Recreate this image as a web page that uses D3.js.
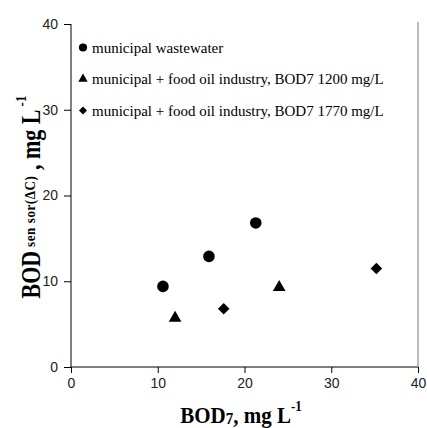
<!DOCTYPE html>
<html lang="en">
<head>
<meta charset="UTF-8">
<title>BOD scatter</title>
<script src="https://d3js.org/d3.v7.min.js"></script>
<style>
  body { margin: 0; background: #fff; }
  .tick text { font-family: "Liberation Sans", Arial, sans-serif; font-size: 14px; fill: #222; }
  .ttl { font-family: "Liberation Serif", "Times New Roman", serif; font-weight: bold; }
  .leg { font-family: "Liberation Serif", "Times New Roman", serif; font-size: 15px; }
</style>
</head>
<body>
<svg id="main" width="427" height="428"></svg>
<script>
  // data
  const seriesNames = ['municipal wastewater',
                       'municipal + food oil industry, BOD7 1200 mg/L',
                       'municipal + food oil industry, BOD7 1770 mg/L'];
  const municipalX = [10.6, 15.9, 21.3];
  const municipalY = [9.4, 12.9, 16.8];
  const oil1200X = [12.0, 24.0];
  const oil1200Y = [5.7, 9.3];
  const oil1770X = [17.6, 35.2];
  const oil1770Y = [6.8, 11.5];
  const xTicks = [0, 10, 20, 30, 40];
  const yTicks = [0, 10, 20, 30, 40];

  let svg = d3.select('svg#main');
  let mLeft = 71, mRight = 418, mTop = 24, mBottom = 367;

  let x = d3.scaleLinear().domain([0, 40]).range([mLeft, mRight]);
  let y = d3.scaleLinear().domain([0, 40]).range([mBottom, mTop]);

  let xAxis = svg.append('g')
      .attr('transform', 'translate(0,' + mBottom + ')')
      .call(d3.axisBottom(x).tickValues(xTicks).tickSize(6).tickPadding(5));
  let yAxis = svg.append('g')
      .attr('transform', 'translate(' + mLeft + ',0)')
      .call(d3.axisLeft(y).tickValues(yTicks).tickSize(7).tickPadding(6));
  svg.selectAll('.domain').attr('stroke', '#000');
  svg.selectAll('.tick line').attr('stroke', '#000');
  xAxis.selectAll('.domain').attr('d', 'M' + mLeft + ',0H' + mRight);
  yAxis.selectAll('.domain').attr('d', 'M0,' + mBottom + 'V' + mTop);

  // right frame line
  svg.append('line')
      .attr('x1', x(40)).attr('x2', x(40))
      .attr('y1', y(40) - 2).attr('y2', y(0))
      .attr('stroke', '#777').attr('stroke-width', 1);

  // circle, triangle, diamond (square turned 45deg)
  const symbols = [d3.symbolCircle, d3.symbolTriangle, d3.symbolSquare];
  const turn = [0, 0, 45];
  const sizes = [105, 70, 66];
  const series = [
    municipalX.map((v, i) => ({x: v, y: municipalY[i]})),
    oil1200X.map((v, i) => ({x: v, y: oil1200Y[i]})),
    oil1770X.map((v, i) => ({x: v, y: oil1770Y[i]}))
  ];

  series.forEach(function (pts, k) {
    svg.append('g').selectAll('path')
        .data(pts)
        .enter()
        .append('path')
        .attr('d', d3.symbol().type(symbols[k]).size(sizes[k]))
        .attr('transform', d => 'translate(' + x(d.x) + ',' + y(d.y) + ') rotate(' + turn[k] + ')')
        .attr('fill', '#000');
  });

  // legend
  let legSizes = [52, 38, 32];
  let legend = svg.selectAll('.legendRow').data(seriesNames)
      .enter().append('g')
      .attr('class', 'legendRow')
      .attr('transform', (d, i) => 'translate(83,' + (47.5 + i * 31.5) + ')');
  legend.append('path')
      .attr('d', (d, i) => d3.symbol().type(symbols[i]).size(legSizes[i])())
      .attr('transform', (d, i) => 'rotate(' + turn[i] + ')')
      .attr('fill', '#000');
  legend.append('text')
      .attr('class', 'leg')
      .attr('x', 9).attr('y', 5)
      .text(d => d);

  // x title (glyphs a bit taller than Liberation Serif)
  let xt = svg.append('text').attr('class', 'ttl')
      .attr('transform', 'translate(241,423) scale(1,1.1)')
      .attr('text-anchor', 'middle')
      .attr('font-size', 21);
  xt.append('tspan').text('BOD');
  xt.append('tspan').attr('font-size', 15).attr('dy', 1).text('7');
  xt.append('tspan').attr('dy', -1).text(', mg L');
  xt.append('tspan').attr('font-size', 13).attr('dy', -11).text('-1');

  // y title
  let yt = svg.append('text').attr('class', 'ttl')
      .attr('transform', 'translate(40,197) rotate(-90) scale(1,1.2)')
      .attr('text-anchor', 'middle')
      .attr('font-size', 22);
  yt.append('tspan').text('BOD');
  yt.append('tspan').attr('font-size', 13).attr('dy', -4)
      .attr('letter-spacing', 0.6).text(' sen sor(\u0394C)');
  yt.append('tspan').attr('dy', 4).text(' , mg L');
  yt.append('tspan').attr('font-size', 13).attr('dy', -12).text(' -1');
</script>
</body>
</html>
